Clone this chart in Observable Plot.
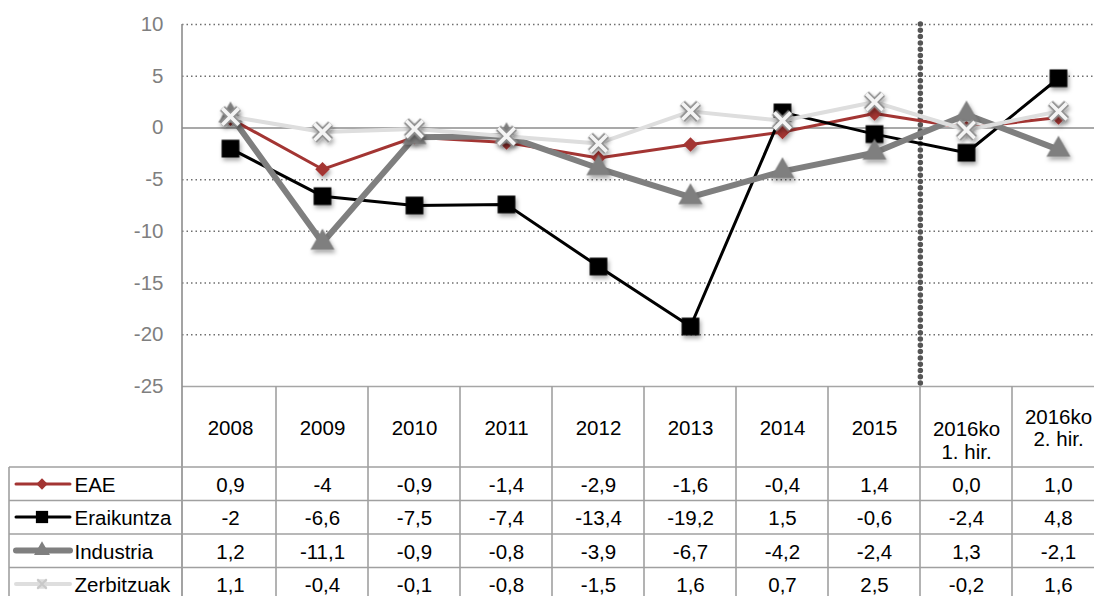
<!DOCTYPE html>
<html><head><meta charset="utf-8">
<script src="https://cdn.jsdelivr.net/npm/d3@7"></script>
<script src="https://cdn.jsdelivr.net/npm/@observablehq/plot@0.6"></script>
<style>
html,body{margin:0;padding:0;background:#fff;}
#chart svg{display:block;}
</style>
</head><body><div id="chart"></div>
<script>
const categories = ["2008","2009","2010","2011","2012","2013","2014","2015","2016ko 1. hir.","2016ko 2. hir."];
const headerLines = [["2008"],["2009"],["2010"],["2011"],["2012"],["2013"],["2014"],["2015"],["2016ko","1. hir."],["2016ko","2. hir."]];
const seriesNames = ["EAE","Eraikuntza","Industria","Zerbitzuak"];
const eaeText = ["0,9","-4","-0,9","-1,4","-2,9","-1,6","-0,4","1,4","0,0","1,0"];
const eraikuntzaText = ["-2","-6,6","-7,5","-7,4","-13,4","-19,2","1,5","-0,6","-2,4","4,8"];
const industriaText = ["1,2","-11,1","-0,9","-0,8","-3,9","-6,7","-4,2","-2,4","1,3","-2,1"];
const zerbitzuakText = ["1,1","-0,4","-0,1","-0,8","-1,5","1,6","0,7","2,5","-0,2","1,6"];
const yTicks = [10,5,0,-5,-10,-15,-20,-25];
const gridTicks = [10,5,-5,-10,-15,-20];

const W = 1094, H = 596;
const mL = 182, mT = 24, mB = 210;
const colW = 92.3;
const xRange = [mL, mL + colW * categories.length];

const texts = [eaeText, eraikuntzaText, industriaText, zerbitzuakText];
const rows = [];
texts.forEach((arr, i) => arr.forEach((t, j) => rows.push({
  series: seriesNames[i], cat: categories[j], label: t, value: +t.replace(",", ".")
})));
const bySeries = s => rows.filter(d => d.series === s);

const styles = {
  EAE: {stroke: "#a33533", width: 3},
  Eraikuntza: {stroke: "#000000", width: 3},
  Industria: {stroke: "#7f7f7f", width: 6},
  Zerbitzuak: {stroke: "#dedede", width: 4}
};
const rowDy = [105, 138, 172, 205];
const FS = 20.5;

const marks = [
  Plot.ruleY(gridTicks, {stroke: "#6f6f6f", strokeWidth: 1.5, strokeDasharray: "1.5,3"}),
  Plot.ruleY([0], {stroke: "#8c8c8c", strokeWidth: 1.6}),
  Plot.ruleY([-25], {stroke: "#a6a6a6", strokeWidth: 1.6}),
  Plot.ruleX([categories[8]], {x: d => d, dx: -colW / 2, stroke: "#555", strokeWidth: 5.5, strokeDasharray: "0,6.3", strokeLinecap: "round"}),
  Plot.axisY({ticks: yTicks, tickSize: 0, tickPadding: 19, fontSize: FS, fill: "#7f7f7f", tickFormat: d => String(d), label: null})
];

// EAE
marks.push(Plot.line(bySeries("EAE"), {x: "cat", y: "value", stroke: styles.EAE.stroke, strokeWidth: styles.EAE.width}));
marks.push(Plot.dot(bySeries("EAE"), {x: "cat", y: "value", symbol: "square", r: 5.8, rotate: 45, fill: "#a33533", className: "shadowed"}));
// Eraikuntza
marks.push(Plot.line(bySeries("Eraikuntza"), {x: "cat", y: "value", stroke: "#000", strokeWidth: 3}));
marks.push(Plot.dot(bySeries("Eraikuntza"), {x: "cat", y: "value", symbol: "square", r: 10, fill: "#000", className: "shadowed"}));
// Industria
marks.push(Plot.line(bySeries("Industria"), {x: "cat", y: "value", stroke: "#7f7f7f", strokeWidth: 6}));
marks.push(Plot.dot(bySeries("Industria"), {x: "cat", y: "value", symbol: "triangle", r: 9, fill: "#7f7f7f", className: "shadowed"}));
// Zerbitzuak
marks.push(Plot.line(bySeries("Zerbitzuak"), {x: "cat", y: "value", stroke: "#dedede", strokeWidth: 4}));
marks.push(Plot.dot(bySeries("Zerbitzuak"), {x: "cat", y: "value", symbol: "times", r: 7.5, stroke: "#8f8f8f", strokeWidth: 7, className: "shadowed"}));
marks.push(Plot.dot(bySeries("Zerbitzuak"), {x: "cat", y: "value", symbol: "times", r: 7.5, stroke: "#f4f4f4", strokeWidth: 3.6}));

// table header
const single = categories.filter((c, j) => headerLines[j].length === 1);
marks.push(Plot.text(single, {x: d => d, text: d => d, frameAnchor: "bottom", dy: 48, lineAnchor: "bottom", fontSize: FS, fill: "#000"}));
marks.push(Plot.text([categories[8]], {x: d => d, text: () => headerLines[8][0], frameAnchor: "bottom", dy: 49, lineAnchor: "bottom", fontSize: FS, fill: "#000"}));
marks.push(Plot.text([categories[8]], {x: d => d, text: () => headerLines[8][1], frameAnchor: "bottom", dy: 72, lineAnchor: "bottom", fontSize: FS, fill: "#000"}));
marks.push(Plot.text([categories[9]], {x: d => d, text: () => headerLines[9][0], frameAnchor: "bottom", dy: 37, lineAnchor: "bottom", fontSize: FS, fill: "#000"}));
marks.push(Plot.text([categories[9]], {x: d => d, text: () => headerLines[9][1], frameAnchor: "bottom", dy: 59, lineAnchor: "bottom", fontSize: FS, fill: "#000"}));

// table rows
seriesNames.forEach((s, i) => {
  marks.push(Plot.text(bySeries(s), {x: "cat", text: "label", frameAnchor: "bottom", dy: rowDy[i], lineAnchor: "bottom", fontSize: FS, fill: "#000"}));
  marks.push(Plot.text([s], {text: d => d, frameAnchor: "bottom-left", dx: -108, dy: rowDy[i], textAnchor: "start", lineAnchor: "bottom", fontSize: FS, fill: "#000"}));
});

const chart = Plot.plot({
  width: W, height: H,
  marginLeft: mL, marginTop: mT, marginBottom: mB, marginRight: 0,
  style: {fontFamily: "'Liberation Sans', Arial, sans-serif", fontSize: "20px", background: "#fff", overflow: "hidden"},
  x: {type: "band", domain: categories, range: xRange, padding: 0, axis: null},
  y: {domain: [-25, 10], axis: null, label: null},
  marks
});
document.getElementById("chart").appendChild(chart);

// post-processing: shadows, table grid, legend samples
const svg = d3.select(chart);
const defs = svg.insert("defs", ":first-child");
const f = defs.append("filter").attr("id", "shadow").attr("x", "-50%").attr("y", "-50%").attr("width", "200%").attr("height", "200%");
f.append("feDropShadow").attr("dx", 1.5).attr("dy", 3).attr("stdDeviation", 2).attr("flood-color", "#000").attr("flood-opacity", 0.35);
svg.selectAll(".shadowed").attr("filter", "url(#shadow)");

const xs = chart.scale("x");
const yBottom = H - mB;
const grid = svg.append("g").attr("stroke", "#a0a0a0").attr("stroke-width", 1.6).attr("fill", "none");
grid.append("line").attr("x1", mL).attr("x2", mL).attr("y1", mT).attr("y2", H).attr("stroke", "#8c8c8c");
categories.forEach(c => {
  const xb = xs.apply(c) + xs.bandwidth;
  grid.append("line").attr("x1", xb).attr("x2", xb).attr("y1", yBottom).attr("y2", H);
});
const rowLines = [467, 500.5, 534, 567.5];
rowLines.forEach(y => grid.append("line").attr("x1", 9).attr("x2", W).attr("y1", y).attr("y2", y));
grid.append("line").attr("x1", 9).attr("x2", 9).attr("y1", 467).attr("y2", H);

// legend samples
const leg = svg.append("g");
const rowMid = [484, 517, 550.5, 584];
seriesNames.forEach((s, i) => {
  const st = styles[s];
  leg.append("line").attr("x1", 16).attr("x2", 70).attr("y1", rowMid[i]).attr("y2", rowMid[i])
    .attr("stroke", st.stroke).attr("stroke-width", st.width).attr("stroke-linecap", "round");
});
leg.append("path").attr("d", d3.symbol(d3.symbolSquare, 64)()).attr("transform", `translate(42,${rowMid[0]}) rotate(45)`).attr("fill", "#a33533");
leg.append("path").attr("d", d3.symbol(d3.symbolSquare, 150)()).attr("transform", `translate(42,${rowMid[1]})`).attr("fill", "#000");
leg.append("path").attr("d", d3.symbol(d3.symbolTriangle, 110)()).attr("transform", `translate(42,${rowMid[2]})`).attr("fill", "#7f7f7f");
leg.append("path").attr("d", d3.symbol(d3.symbolSquare, 90)()).attr("transform", `translate(42,${rowMid[3]})`).attr("fill", "#dcdcdc");
leg.append("path").attr("d", d3.symbol(d3.symbolTimes, 60)()).attr("transform", `translate(42,${rowMid[3]})`).attr("stroke", "#c8c8c8").attr("stroke-width", 2).attr("fill", "none");
</script>
</body></html>
